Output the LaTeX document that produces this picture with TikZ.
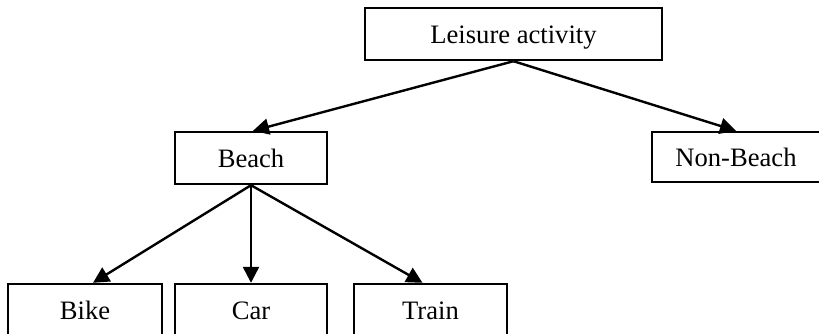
\documentclass[tikz,border=0pt]{standalone}
\usepackage{fontspec}
\setmainfont{Liberation Serif}
\usetikzlibrary{arrows.meta}
\begin{document}
\begin{tikzpicture}[x=0.5pt,y=-0.5pt,
  box/.style={draw, line width=1.2pt, inner sep=0pt, anchor=center, text height=9pt, text depth=0pt, font=\fontsize{13.3}{16}\selectfont},
  conn/.style={line width=1.2pt, -{Triangle[length=8pt,width=8pt]}}]
\useasboundingbox (0,0) rectangle (819,333);
\clip (0,0) rectangle (819,333);
\node[box, minimum width=148.5pt, minimum height=26pt] (leis) at (513.5,34) {Leisure activity};
\node[box, minimum width=76pt, minimum height=26pt] (beach) at (251,158) {Beach};
\node[box, minimum width=84pt, minimum height=25pt] (nonb) at (736,157) {Non-Beach};
\node[box, minimum width=77pt, minimum height=26pt] (bike) at (85,310) {Bike};
\node[box, minimum width=76pt, minimum height=26pt] (car) at (251,310) {Car};
\node[box, minimum width=76.5pt, minimum height=26pt] (train) at (430.5,310) {Train};
\draw[conn] (leis.south) -- ([xshift=1pt]beach.north);
\draw[conn] (leis.south) -- (nonb.north);
\draw[conn] (beach.south) -- ([xshift=4pt]bike.north);
\draw[conn] (beach.south) -- (car.north);
\draw[conn] (beach.south) -- ([xshift=-4pt]train.north);
\end{tikzpicture}
\end{document}
